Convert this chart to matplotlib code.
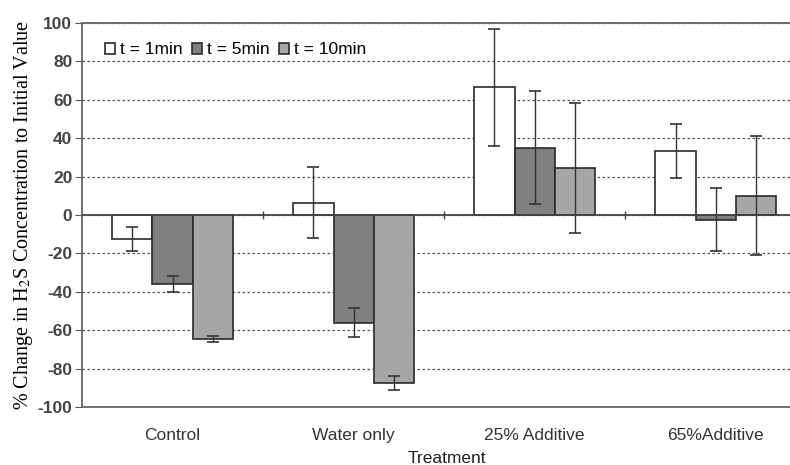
import numpy as np
import matplotlib
matplotlib.use("Agg")
import matplotlib.pyplot as plt

# values
treatments = ['Control', 'Water only', '25% Additive', '65%Additive']
series_names = ['t = 1min', 't = 5min', 't = 10min']
t1_mean = [-12.5, 6.5, 66.5, 33.5]
t1_err = [6, 18.5, 30.5, 14]
t5_mean = [-36, -56, 35, -2.5]
t5_err = [4, 7.5, 29.5, 16.5]
t10_mean = [-64.5, -87.5, 24.5, 10]
t10_err = [1.5, 3.5, 34, 31]
yticks = list(range(-100, 101, 20))

means = [t1_mean, t5_mean, t10_mean]
errs = [t1_err, t5_err, t10_err]
colors = ['white', '#808080', '#a6a6a6']

plt.rcParams['axes.unicode_minus'] = False
plt.rcParams['mathtext.fontset'] = 'stix'

fig = plt.figure(figsize=(7.9, 4.65), dpi=100)
ax = fig.add_axes([0.1038, 0.1247, 0.8962, 0.8258])

x = np.arange(len(treatments))
w = 0.222
for i in range(3):
    ax.bar(x + (i - 1) * w, means[i], w, color=colors[i], edgecolor='#2a2a2a',
           linewidth=1.2, label=series_names[i], zorder=3)
    ax.errorbar(x + (i - 1) * w, means[i], yerr=errs[i], fmt='none',
                ecolor='#333333', elinewidth=1, capsize=4, capthick=1.2, zorder=4)

ax.set_ylim(-100, 100)
ax.set_xlim(-0.5, 3.41)
ax.set_yticks(yticks)
ax.set_xticks(x)
ax.set_xticklabels(treatments)
ax.tick_params(axis='x', length=0, pad=15)
ax.tick_params(axis='y', length=5, direction='out', color='#555555', pad=2)
for lab in ax.get_xticklabels():
    lab.set_fontfamily('Liberation Sans')
    lab.set_fontsize(12.5)
    lab.set_color('#333333')
for lab in ax.get_yticklabels():
    lab.set_fontfamily('Liberation Sans')
    lab.set_fontweight('bold')
    lab.set_fontsize(12.5)
    lab.set_color('#444444')

ax.grid(axis='y', linestyle=(0, (2, 2)), color='#555555', linewidth=0.9, zorder=0)
ax.axhline(0, color='#444444', linewidth=1.3, zorder=5)
# category separator ticks on the zero line
ax.plot(x[:-1] + 0.5, np.zeros(len(x) - 1), linestyle='none', marker='|',
        markersize=6, color='#444444', zorder=5)

ax.spines['right'].set_visible(False)
for s in ['left', 'bottom', 'top']:
    ax.spines[s].set_color('#666666')
    ax.spines[s].set_linewidth(1.3)

ax.set_xlabel('Treatment', fontfamily='Liberation Sans', fontsize=12.5,
              color='#222222')
ax.xaxis.set_label_coords(0.515, -0.115)
ax.set_ylabel(r'% Change in H$_2$S Concentration to Initial Value',
              fontfamily='Liberation Serif', fontsize=14.5, labelpad=2)

leg = ax.legend(loc='upper left', ncol=3, frameon=False, bbox_to_anchor=(0.01, 0.99),
                handlelength=0.6, handleheight=0.6, handletextpad=0.3,
                columnspacing=0.5, prop={'family': 'Liberation Sans', 'size': 12.5})

fig.savefig('out.png', dpi=100)
